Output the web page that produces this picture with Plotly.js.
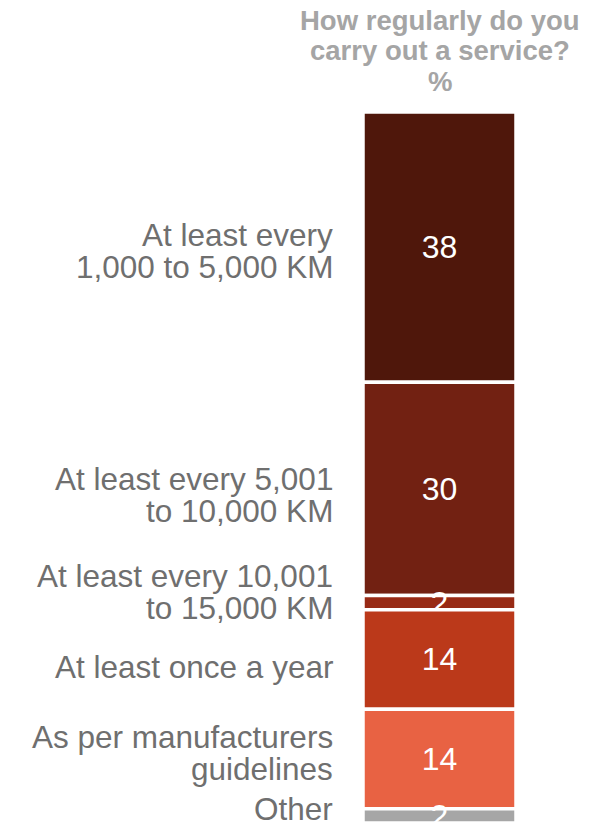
<!DOCTYPE html>
<html>
<head>
<meta charset="utf-8">
<script src="https://cdn.plot.ly/plotly-3.0.1.min.js"></script>
<style>html,body{margin:0;padding:0;background:#fff;}#chart{width:605px;height:823px;}</style>
</head>
<body>
<div id="chart"></div>
<script>
// Data (top to bottom)
const categories = [
  "At least every<br>1,000 to 5,000 KM",
  "At least every 5,001<br>to 10,000 KM",
  "At least every 10,001<br>to 15,000 KM",
  "At least once a year",
  "As per manufacturers<br>guidelines",
  "Other"
];
const values = [38, 30, 2, 14, 14, 2];
const titleLines = ["How regularly do you", "carry out a service?", "%"];

// Styles
const colors = ["#4f170b", "#722112", "#982a15", "#bb391a", "#e86243", "#a6a6a6"];
const labelShiftDown = [4, 6, -11, 8, -6, -7]; // pixel nudges of side labels
const lineGap = 32;

const total = values.reduce((a, b) => a + b, 0);
const traces = [];
const annotations = [];
let cursor = total;
categories.forEach((cat, i) => {
  const v = values[i];
  traces.push({
    type: "bar",
    x: ["q"],
    y: [v],
    base: [cursor - v],
    marker: { color: colors[i], line: { color: "#ffffff", width: 3.5 } },
    text: [String(v)],
    textposition: "inside",
    insidetextanchor: "middle",
    textangle: 0,
    constraintext: "none",
    textfont: { family: "Liberation Sans, Arial, sans-serif", size: 32, color: "#ffffff" },
    hoverinfo: "skip",
    showlegend: false,
    cliponaxis: false
  });
  const mid = cursor - v / 2;
  const lines = cat.split("<br>");
  lines.forEach((ln, j) => {
    const off = (j - (lines.length - 1) / 2) * lineGap;
    annotations.push({
      xref: "paper", yref: "y",
      x: -0.183, y: mid,
      xanchor: "right", yanchor: "middle",
      yshift: -off - labelShiftDown[i],
      text: ln, showarrow: false,
      font: { family: "Liberation Sans, Arial, sans-serif", size: 31.5, color: "#6f6f6f" }
    });
  });
  cursor -= v;
});

titleLines.forEach((t, j) => {
  annotations.push({
    xref: "paper", yref: "paper",
    x: 0.5, y: 1,
    xanchor: "center", yanchor: "middle",
    yshift: 112 - 20 - j * 30.5,
    text: "<b>" + t + "</b>", showarrow: false,
    font: { family: "Liberation Sans, Arial, sans-serif", size: 27.5, color: "#a5a5a5" }
  });
});

const layout = {
  width: 605, height: 823,
  margin: { l: 363, r: 89, t: 112, b: 0 },
  paper_bgcolor: "#ffffff", plot_bgcolor: "#ffffff",
  barmode: "overlay",
  bargap: 0,
  xaxis: { visible: false, fixedrange: true },
  yaxis: { visible: false, range: [0, total], fixedrange: true },
  annotations: annotations,
  showlegend: false
};

Plotly.newPlot("chart", traces, layout, { displayModeBar: false, staticPlot: true });
</script>
</body>
</html>
